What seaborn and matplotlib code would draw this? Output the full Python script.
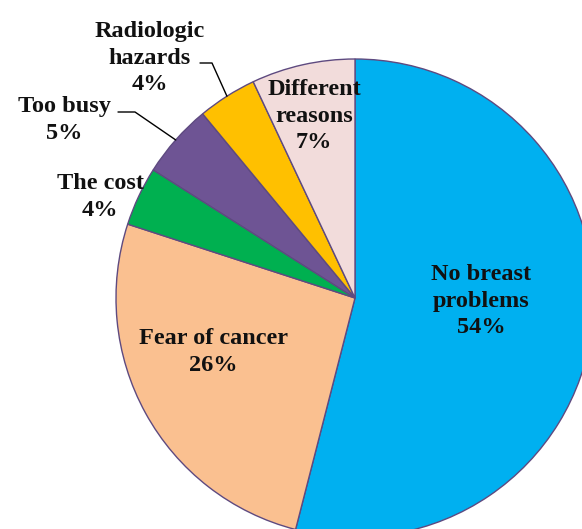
import numpy as np
import matplotlib
matplotlib.use("Agg")
import matplotlib.pyplot as plt
import seaborn as sns

categories = ["No breast\nproblems", "Fear of cancer", "The cost", "Too busy",
              "Radiologic\nhazards", "Different\nreasons"]
values = [54, 26, 4, 5, 4, 7]
pct_labels = ["54%", "26%", "4%", "5%", "4%", "7%"]
colors = ["#00B0F0", "#FAC090", "#00B050", "#6E5494", "#FFC000", "#F2DCDB"]

sns.set_theme(style="white")
plt.rcParams["font.family"] = ["Liberation Serif", "DejaVu Serif"]

W, H = 582, 529
fig = plt.figure(figsize=(W / 100, H / 100), dpi=100)
ax = fig.add_axes([0, 0, 1, 1])

# pie geometry (pixels)
cx, cy, R = 355, 298, 239

wedges, _ = ax.pie(values, colors=colors, startangle=90, counterclock=False,
                   radius=1.0, center=(0, 0), frame=False,
                   wedgeprops=dict(edgecolor="#5E4A80", linewidth=1.0))
ax.set_xlim(-cx / R, (W - cx) / R)
ax.set_ylim(-(H - cy) / R, cy / R)
ax.set_aspect("auto")
ax.set_axis_off()


def px(x, y):
    return (x - cx) / R, (cy - y) / R


label_px = [(481, 301), (213, 352), (100, 197), (64, 120), (150, 58), (314, 116)]
for cat, pct, (lx, ly) in zip(categories, pct_labels, label_px):
    x, y = px(lx, ly)
    ax.text(x, y, f"{cat}\n{pct}", ha="center", va="center", fontsize=17.5,
            fontweight="bold", color="#111111", linespacing=1.32)

# leader lines for the small outside labels
leaders = {3: [(118, 112), (135, 112)], 4: [(200, 63), (212, 63)]}
for idx, pts in leaders.items():
    w = wedges[idx]
    mid = np.deg2rad((w.theta1 + w.theta2) / 2)
    tip = (np.cos(mid) * 1.0, np.sin(mid) * 1.0)
    xs = [px(*p)[0] for p in pts] + [tip[0]]
    ys = [px(*p)[1] for p in pts] + [tip[1]]
    ax.plot(xs, ys, color="black", linewidth=1.0)

fig.savefig("out.png", dpi=100)
